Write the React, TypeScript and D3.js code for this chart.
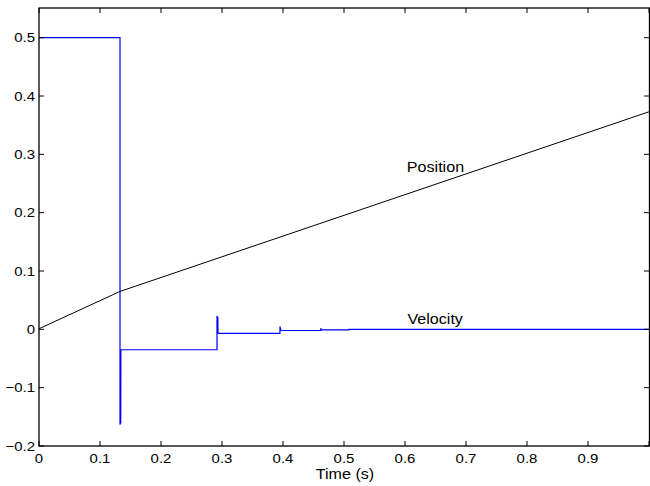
import React from "react";
import * as d3 from "d3";

const xTicks = [0, 0.1, 0.2, 0.3, 0.4, 0.5, 0.6, 0.7, 0.8, 0.9, 1.0];
const xTickLabels = ["0", "0.1", "0.2", "0.3", "0.4", "0.5", "0.6", "0.7", "0.8", "0.9", ""];
const yTicks = [-0.2, -0.1, 0, 0.1, 0.2, 0.3, 0.4, 0.5];
const yTickLabels = ["\u22120.2", "\u22120.1", "0", "0.1", "0.2", "0.3", "0.4", "0.5"];

const positionT = [0, 0.1328, 1.0];
const positionV = [0.001, 0.065, 0.373];

const velocityT = [0, 0.1328, 0.1328, 0.134, 0.1342, 0.2918, 0.2918, 0.2932, 0.2935, 0.395, 0.395, 0.3965, 0.462, 0.462, 0.463, 0.508, 0.508, 1.0];
const velocityV = [0.5, 0.5, -0.163, -0.16, -0.035, -0.035, 0.023, 0.02, -0.007, -0.007, 0.005, -0.002, -0.002, 0.002, -0.001, -0.001, 0, 0];

const labels = [
  { text: "Position", t: 0.603, v: 0.269 },
  { text: "Velocity", t: 0.604, v: 0.0095 },
];

const W = 650;
const H = 486;
const left = 39;
const right = 649;
const top = 8;
const bottom = 446;

export default function App() {
  const x = d3.scaleLinear().domain([0, 1]).range([left, right]);
  const y = d3.scaleLinear().domain([-0.2, 0.5]).range([446, 37.7]);
  const line = d3
    .line<[number, number]>()
    .x((d) => x(d[0]))
    .y((d) => y(d[1]));
  const posData = positionT.map((t, i) => [t, positionV[i]] as [number, number]);
  const velData = velocityT.map((t, i) => [t, velocityV[i]] as [number, number]);
  const font = "'Liberation Sans', Arial, Helvetica, sans-serif";
  const sx = 1.15;
  const tickLen = 5;
  return (
    <svg
      width={W}
      height={H}
      style={{ position: "absolute", left: 0, top: 0, background: "#fff" }}
      fontFamily={font}
    >
      <rect x={0} y={0} width={W} height={H} fill="#fff" />
      <path d={line(velData) ?? ""} fill="none" stroke="#0000ff" strokeWidth={1.2} />
      <path d={line(posData) ?? ""} fill="none" stroke="#000" strokeWidth={1} />
      {/* box */}
      <rect x={left} y={top} width={right - left + 0.5} height={bottom - top} fill="none" stroke="#000" strokeWidth={1.3} />
      {xTicks.map((t, i) => (
        <g key={"xt" + i}>
          <line x1={x(t)} x2={x(t)} y1={bottom} y2={bottom - tickLen} stroke="#000" strokeWidth={1} />
          <line x1={x(t)} x2={x(t)} y1={top} y2={top + tickLen} stroke="#000" strokeWidth={1} />
          {xTickLabels[i] && (
            <text
              transform={`translate(${x(t)},462.5) scale(${sx},1)`}
              textAnchor="middle"
              fontSize={13}
              fill="#000"
            >
              {xTickLabels[i]}
            </text>
          )}
        </g>
      ))}
      {yTicks.map((v, i) => (
        <g key={"yt" + i}>
          <line x1={left} x2={left + tickLen} y1={y(v)} y2={y(v)} stroke="#000" strokeWidth={1} />
          <line x1={right} x2={right - tickLen} y1={y(v)} y2={y(v)} stroke="#000" strokeWidth={1} />
          <text
            transform={`translate(35,${y(v) + 4.7}) scale(${sx},1)`}
            textAnchor="end"
            fontSize={13}
            fill="#000"
          >
            {yTickLabels[i]}
          </text>
        </g>
      ))}
      <text
        transform={`translate(345,479) scale(${sx},1)`}
        textAnchor="middle"
        fontSize={14}
        fill="#000"
      >
        Time (s)
      </text>
      {labels.map((l) => (
        <text
          key={l.text}
          transform={`translate(${x(l.t)},${y(l.v)}) scale(${sx},1)`}
          fontSize={14}
          fill="#000"
        >
          {l.text}
        </text>
      ))}
    </svg>
  );
}
